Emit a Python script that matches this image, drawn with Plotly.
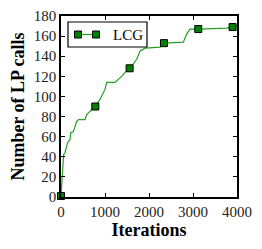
import plotly.graph_objects as go

# Data
iterations = [0, 20, 30, 60, 90, 150, 205, 220, 280, 355, 395, 545, 585, 660, 770,
              886, 1000, 1038, 1227, 1303, 1380, 1455, 1568, 1720, 1795, 1909, 2174,
              2250, 2348, 2780, 2856, 2932, 3136, 3765, 3879, 4000]
lp_calls = [1, 15, 27, 42, 44, 54, 57, 64, 65, 75, 77, 77, 82, 85, 90,
            97, 107, 114, 114, 117, 120, 124, 128, 137, 145, 148, 149,
            149, 153, 154, 162, 167, 167, 168, 169, 170]
marker_iterations = [0, 780, 1560, 2340, 3120, 3900]
marker_lp_calls = [1, 90, 128, 153, 167, 169]
series_name = "LCG"
x_ticks = [0, 1000, 2000, 3000, 4000]
y_ticks = [0, 20, 40, 60, 80, 100, 120, 140, 160, 180]

# page body has an 8px margin; figure sized to the visible area
OFF = 8
W, H = 254, 241
ML, MR, MT, MB = 61 - OFF, 25, 16 - OFF, 52
PW, PH = W - ML - MR, H - MT - MB

GREEN = "#008000"
LINE_GREEN = "#22a022"
FONT = "Liberation Serif"

fig = go.Figure()
fig.add_trace(go.Scatter(x=iterations, y=lp_calls, mode="lines",
                         line=dict(color=LINE_GREEN, width=1.2, shape="linear"),
                         showlegend=False, cliponaxis=False))
fig.add_trace(go.Scatter(x=marker_iterations, y=marker_lp_calls, mode="markers",
                         marker=dict(symbol="square", size=7, color=GREEN,
                                     line=dict(color="black", width=1)),
                         showlegend=False, cliponaxis=False))

# helpers converting reference-window pixels to paper coordinates
def px(xp):
    return (xp - OFF - ML) / PW

def py(yp):
    return (H - MB - (yp - OFF)) / PH

# Manual matplotlib-style legend
shapes = [dict(type="rect", xref="paper", yref="paper",
               x0=px(68), x1=px(147), y0=py(47), y1=py(22),
               line=dict(color="black", width=1.2), fillcolor="white", layer="above")]
ly = 34.5
shapes.append(dict(type="line", xref="paper", yref="paper",
                   x0=px(78), x1=px(96), y0=py(ly), y1=py(ly),
                   line=dict(color=LINE_GREEN, width=1.2), layer="above"))
for cx in (78, 96):
    shapes.append(dict(type="rect", xref="paper", yref="paper",
                       x0=px(cx - 3.5), x1=px(cx + 3.5), y0=py(ly + 3.5), y1=py(ly - 3.5),
                       line=dict(color="black", width=1), fillcolor=GREEN, layer="above"))

fig.update_layout(
    width=W, height=H,
    margin=dict(l=ML, r=MR, t=MT, b=MB, autoexpand=False),
    paper_bgcolor="white", plot_bgcolor="white",
    font=dict(family=FONT, size=15, color="black"),
    shapes=shapes,
    annotations=[dict(xref="paper", yref="paper", x=px(111), y=py(ly),
                      text=series_name, showarrow=False, xanchor="left",
                      yanchor="middle", font=dict(family=FONT, size=15, color="black"))],
    xaxis=dict(range=[0, 4000], tickvals=x_ticks, ticks="inside", ticklen=4,
               tickcolor="black", showline=True, linecolor="black", linewidth=1.5,
               mirror="ticks", showgrid=False, zeroline=False, automargin=False,
               tickfont=dict(family=FONT, size=15, color="#222"),
               title=dict(text="<b>Iterations</b>", standoff=3,
                          font=dict(family=FONT, size=18, color="black"))),
    yaxis=dict(range=[0, 180], tickvals=y_ticks, ticks="inside", ticklen=4,
               tickcolor="black", showline=True, linecolor="black", linewidth=1.5,
               mirror="ticks", showgrid=False, zeroline=False, automargin=False,
               tickfont=dict(family=FONT, size=15, color="#222"),
               title=dict(text="<b>Number of LP calls</b>", standoff=6,
                          font=dict(family=FONT, size=18, color="black"))),
)

fig.write_html("out.html")
